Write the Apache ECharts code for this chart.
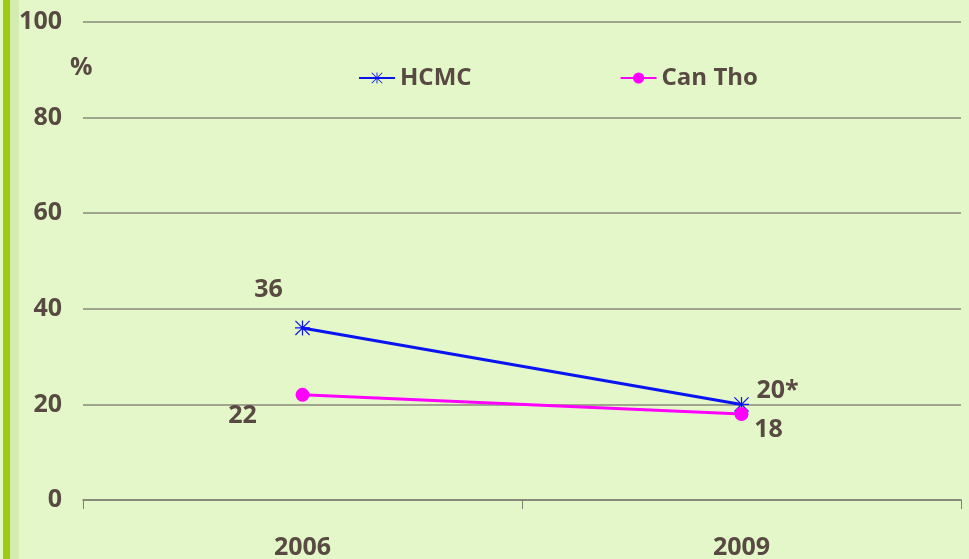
<!DOCTYPE html>
<html>
<head>
<meta charset="utf-8">
<script src="https://cdn.jsdelivr.net/npm/echarts@6/dist/echarts.min.js"></script>
<style>
  html, body { margin: 0; padding: 0; background: #e3f7c9; }
  #chart { width: 969px; height: 559px; }
</style>
</head>
<body>
<div id="chart"></div>
<script>
const years = ["2006", "2009"];
const hcmc = [36, 20];
const canTho = [22, 18];
const hcmcLabels = ["36", "20*"];
const canThoLabels = ["22", "18"];

const textColor = "#584a42";
const font = "'Open Sans', 'Liberation Sans', sans-serif";
const fs = 25;

// asterisk marker made of four thin bars
const asterisk = "path://M0 9.2L20 9.2L20 10.8L0 10.8Z M9.2 0L10.8 0L10.8 20L9.2 20Z M1.1 0L20 18.9L18.9 20L0 1.1Z M0 18.9L18.9 0L20 1.1L1.1 20Z";

const chart = echarts.init(document.getElementById("chart"));

chart.setOption({
    backgroundColor: "#e3f7c9",
    animation: false,
    textStyle: {fontFamily: font},
    graphic: [
        {type: "rect", shape: {x: 3, y: 0, width: 7, height: 559}, style: {fill: "#9ccb10"}},
        {type: "rect", shape: {x: 10, y: 0, width: 9, height: 559}, style: {fill: "#d4ecb0"}},
        {
            type: "text", left: 70, top: 55,
            style: {text: "%", fill: textColor, font: "bold " + fs + "px " + font}
        }
    ],
    legend: {
        top: 61,
        left: 353,
        itemGap: 148,
        itemWidth: 36,
        itemHeight: 14,
        textStyle: {color: textColor, fontSize: 24, fontWeight: "bold", fontFamily: font},
        data: ["HCMC", "Can Tho"]
    },
    grid: {left: 83, right: 8, top: 22, bottom: 59, containLabel: false, outerBoundsMode: "none"},
    xAxis: {
        type: "category",
        data: years,
        boundaryGap: true,
        axisLine: {lineStyle: {color: "#7f7f72", width: 1.5}},
        axisTick: {show: true, length: 9, lineStyle: {color: "#7f7f72"}},
        axisLabel: {color: textColor, fontSize: fs, fontWeight: "bold", margin: 35}
    },
    yAxis: {
        type: "value",
        min: 0,
        max: 100,
        interval: 20,
        axisLine: {show: false},
        axisTick: {show: false},
        axisLabel: {color: textColor, fontSize: fs, fontWeight: "bold", margin: 21},
        splitLine: {lineStyle: {color: "#8a8a7a", width: 1.5}}
    },
    series: [
        {
            name: "HCMC",
            type: "line",
            data: hcmc,
            color: "#0a14f0",
            lineStyle: {width: 3},
            symbol: asterisk,
            symbolSize: 15,
            label: {
                show: true,
                position: "inside",
                fontSize: fs,
                fontWeight: "bold",
                color: textColor,
                formatter: p => hcmcLabels[p.dataIndex]
            },
            labelLayout: p => p.dataIndex === 0
                ? {dx: -34, dy: -38}
                : {dx: 36, dy: -14}
        },
        {
            name: "Can Tho",
            type: "line",
            data: canTho,
            color: "#ff00ff",
            lineStyle: {width: 3},
            symbol: "circle",
            symbolSize: 14,
            label: {
                show: true,
                position: "inside",
                fontSize: fs,
                fontWeight: "bold",
                color: textColor,
                formatter: p => canThoLabels[p.dataIndex]
            },
            labelLayout: p => p.dataIndex === 0
                ? {dx: -60, dy: 21}
                : {dx: 27, dy: 16}
        }
    ]
});
</script>
</body>
</html>
